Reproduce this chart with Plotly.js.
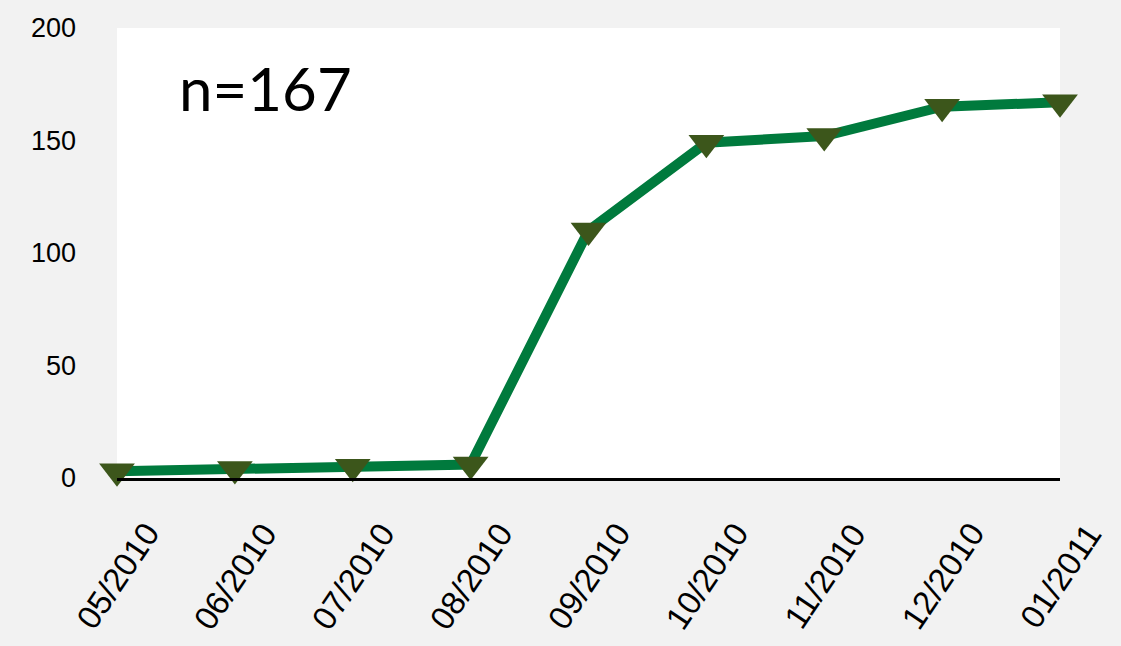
<!DOCTYPE html>
<html>
<head>
<meta charset="utf-8">
<script src="https://cdn.plot.ly/plotly-3.0.1.min.js"></script>
<style>html,body{margin:0;padding:0;background:#f2f2f2;}</style>
</head>
<body>
<div id="chart" style="width:1121px;height:646px;"></div>
<script>
var months = ["05/2010","06/2010","07/2010","08/2010","09/2010","10/2010","11/2010","12/2010","01/2011"];
var counts = [3, 4, 5, 6, 110, 149, 152, 165, 167];
var yTicks = [0, 50, 100, 150, 200];
var noteText = "n=167";

var trace = {
  type: "scatter",
  mode: "lines+markers",
  x: months,
  y: counts,
  cliponaxis: false,
  line: {color: "#007a3d", width: 10},
  marker: {symbol: "triangle-down", size: 31, color: "#3c561b"},
  hoverinfo: "skip"
};

var annotations = months.map(function (m) {
  return {
    x: m, y: 0, xref: "x", yref: "y",
    text: m, showarrow: false,
    textangle: -56,
    xanchor: "center", yanchor: "middle",
    yshift: -98,
    font: {family: "Liberation Sans, Arial, sans-serif", size: 33, color: "#000"}
  };
});
annotations.push({
  x: 0, y: 1, xref: "paper", yref: "paper",
  xshift: 60, yshift: -60,
  text: noteText, showarrow: false,
  xanchor: "left", yanchor: "middle",
  font: {family: "Lato, Open Sans, sans-serif", size: 60, color: "#000"}
});

var layout = {
  width: 1121, height: 646,
  paper_bgcolor: "#f2f2f2",
  plot_bgcolor: "#ffffff",
  margin: {l: 117, r: 61, t: 28, b: 168, pad: 0},
  showlegend: false,
  xaxis: {
    type: "category",
    range: [0, months.length - 1],
    showticklabels: false,
    showgrid: false, zeroline: false,
    showline: true, linecolor: "#000", linewidth: 2.5,
    ticks: ""
  },
  yaxis: {
    range: [0, 200],
    tickvals: yTicks,
    ticktext: yTicks.map(String),
    showgrid: false, zeroline: false, showline: false,
    ticks: "",
    ticklabelstandoff: 40,
    tickfont: {family: "Liberation Sans, Arial, sans-serif", size: 27, color: "#000"}
  },
  annotations: annotations
};

Plotly.newPlot("chart", [trace], layout, {displayModeBar: false, staticPlot: true});
</script>
</body>
</html>
